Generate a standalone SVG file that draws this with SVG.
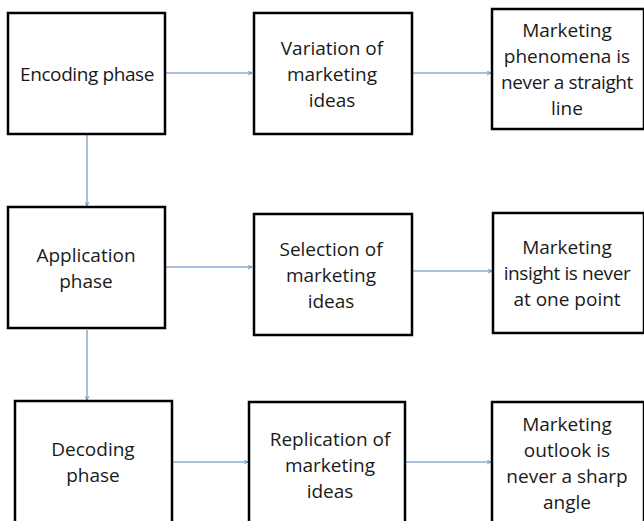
<svg xmlns="http://www.w3.org/2000/svg" width="644" height="521" viewBox="0 0 644 521">
  <defs>
    <style>
      .box { fill: #ffffff; stroke: #000000; stroke-width: 2.5; }
      .label { font-family: "Open Sans", "Liberation Sans", sans-serif; font-size: 19px; fill: #1a1a1a; text-anchor: middle; }
      .tight { letter-spacing: -0.4px; }
      .link { fill: none; stroke: #4f81bd; stroke-width: 1; marker-end: url(#arrow); }
    </style>
    <marker id="arrow" viewBox="0 0 10 10" refX="9" refY="5" markerWidth="5" markerHeight="5" markerUnits="userSpaceOnUse" orient="auto">
      <path d="M1,1 L9,5 L1,9" fill="none" stroke="#4f81bd" stroke-width="1.5"/>
    </marker>
  </defs>

  <rect width="644" height="521" fill="#ffffff"/>

  <!-- connectors -->
  <g id="connectors">
    <line class="link" x1="166" y1="73" x2="252" y2="73"/>
    <line class="link" x1="412" y1="73" x2="491" y2="73"/>
    <line class="link" x1="87" y1="135" x2="87" y2="206"/>
    <line class="link" x1="166" y1="267" x2="252" y2="267"/>
    <line class="link" x1="413" y1="271" x2="492" y2="271"/>
    <line class="link" x1="87" y1="330" x2="87" y2="400"/>
    <line class="link" x1="173" y1="462" x2="248" y2="462"/>
    <line class="link" x1="406" y1="462" x2="491" y2="462"/>
  </g>

  <!-- row 1 -->
  <g id="encoding">
    <rect class="box" x="8" y="13" width="157" height="121"/>
    <text class="label tight" x="87" y="81">Encoding phase</text>
  </g>
  <g id="variation">
    <rect class="box" x="254" y="13" width="158" height="121"/>
    <text class="label" x="332" y="55">Variation of</text>
    <text class="label" x="332" y="81">marketing</text>
    <text class="label" x="332" y="107">ideas</text>
  </g>
  <g id="phenomena">
    <rect class="box" x="492" y="9" width="152" height="120"/>
    <text class="label" x="567" y="37">Marketing</text>
    <text class="label" x="567" y="63">phenomena is</text>
    <text class="label tight" x="567" y="89">never a straight</text>
    <text class="label" x="567" y="115">line</text>
  </g>

  <!-- row 2 -->
  <g id="application">
    <rect class="box" x="8" y="207" width="157" height="121"/>
    <text class="label" x="86" y="262">Application</text>
    <text class="label" x="86" y="288">phase</text>
  </g>
  <g id="selection">
    <rect class="box" x="254" y="214" width="158" height="121"/>
    <text class="label" x="331" y="256">Selection of</text>
    <text class="label" x="331" y="282">marketing</text>
    <text class="label" x="331" y="308">ideas</text>
  </g>
  <g id="insight">
    <rect class="box" x="493" y="213" width="151" height="120"/>
    <text class="label" x="567" y="254">Marketing</text>
    <text class="label tight" x="567" y="280">insight is never</text>
    <text class="label" x="567" y="306">at one point</text>
  </g>

  <!-- row 3 -->
  <g id="decoding">
    <rect class="box" x="15" y="401" width="157" height="125"/>
    <text class="label" x="93" y="456">Decoding</text>
    <text class="label" x="93" y="482">phase</text>
  </g>
  <g id="replication">
    <rect class="box" x="249" y="402" width="156" height="124"/>
    <text class="label" x="330" y="446">Replication of</text>
    <text class="label" x="330" y="472">marketing</text>
    <text class="label" x="330" y="498">ideas</text>
  </g>
  <g id="outlook">
    <rect class="box" x="492" y="402" width="152" height="124"/>
    <text class="label" x="567" y="431">Marketing</text>
    <text class="label" x="567" y="457">outlook is</text>
    <text class="label" x="567" y="483">never a sharp</text>
    <text class="label" x="567" y="509">angle</text>
  </g>
</svg>
